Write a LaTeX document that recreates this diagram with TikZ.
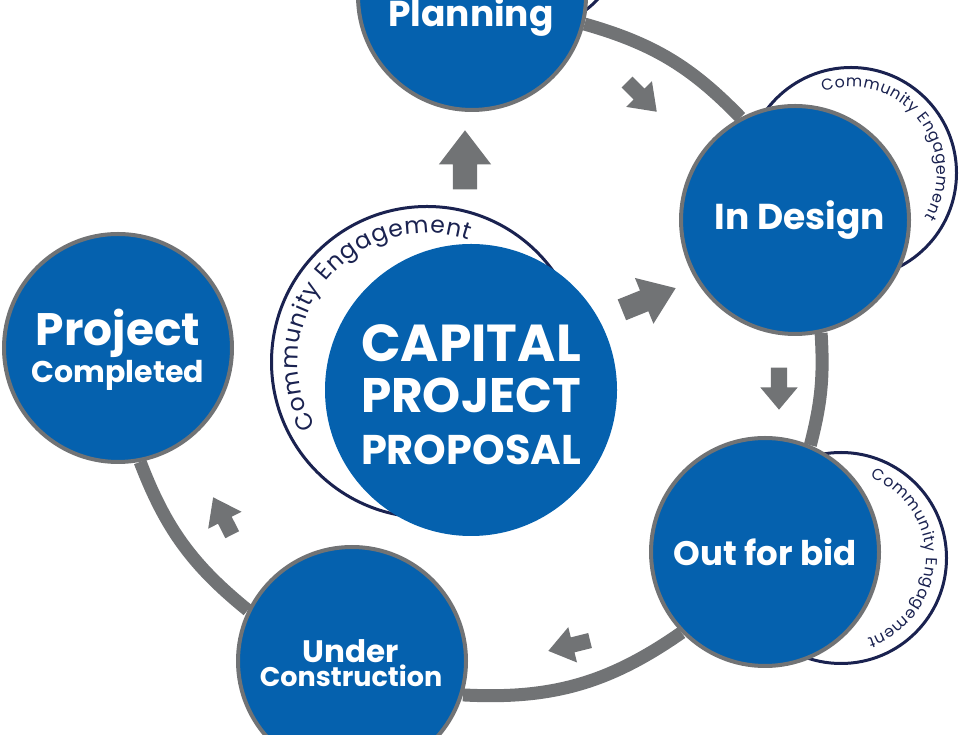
\documentclass[tikz,border=0pt]{standalone}
\usepackage{fontspec}
\setmainfont{Poppins}
\usetikzlibrary{positioning,shapes.arrows,decorations.text,backgrounds}
\definecolor{stepblue}{HTML}{0561AE}
\definecolor{ringgray}{HTML}{717375}
\definecolor{engagenavy}{HTML}{1A2250}
\newcommand{\sized}[1]{\fontsize{#1}{#1}\selectfont}
\begin{document}
\begin{tikzpicture}[x=1pt,y=1pt,
        step node/.style={circle,fill=stepblue,draw=ringgray,line width=4pt,minimum size=228pt,inner sep=0pt,text=white,font=\bfseries,align=center},
        step text/.style={text=white,font=\bfseries,align=center},
        engage ring/.style={circle,draw=engagenavy,line width=3pt},
        ring edge/.style={draw=ringgray,line width=13pt},
        block arrow/.style={single arrow,fill=ringgray,inner xsep=0pt,anchor=tip}]
      \useasboundingbox (0,0) rectangle (960,735);
      \clip (0,0) rectangle (960,735);

      % rings behind the circles
      \node[engage ring,minimum size=311pt] (engage0) at (427,373) {};
      \node[engage ring,minimum size=211pt] (engage2) at (851,562) {};
      \node[engage ring,minimum size=211pt] (engage3) at (841,177) {};
      \node[engage ring,minimum size=201pt] (engage1) at (525,805) {};

      \node[step node,draw=none,minimum size=292pt] (proposal) at (471,345) {};
      \node[step text] (proposaltext) at (471,340.5) {\sized{52}CAPITAL\\[15pt]\sized{48.5}PROJECT\\[21pt]\sized{41.5}PROPOSAL};
      \node[step node] (planning) at (472,739) {};
      \node[step text] (planningtext) at (471,718) {\sized{36}Planning};
      \node[step node] (design) at (795,515) {\hspace*{10pt}\sized{36}In Design};
      \node[step node] (bid) at (765,183) {\sized{34}Out for bid};
      \node[step node] (construction) at (352,74) {};
      \node[step text] (constructiontext) at (351,72) {\sized{31}Under\\[1pt]\sized{27}Construction};
      \node[step node] (completed) at (118,387) {};
      \node[step text] (completedtext) at (118,385) {\sized{45.5}Project\\[1.5pt]\sized{30}Completed};

      \begin{scope}[on background layer]
        \path[ring edge] (planning.-14) to[bend left=15] (design.118);
        \path[ring edge] (design.-77) to[bend left=9] (bid.67);
        \path[ring edge] (bid.224) to[bend left=19] (construction.-17);
        \path[ring edge] (construction.154) to[bend left=15] (completed.-79);
      \end{scope}

      \node[block arrow,rotate=90,minimum height=59pt,minimum width=52pt,inner ysep=12pt,single arrow head extend=14pt,single arrow tip angle=75] (toplanning) at (465,605) {};
      \node[block arrow,rotate=22,minimum height=58pt,minimum width=49pt,inner ysep=11pt,single arrow head extend=13.5pt,single arrow tip angle=72] (todesign) at (676,447) {};
      \node[block arrow,rotate=-45,minimum height=42pt,minimum width=36pt,inner ysep=7.5pt,single arrow head extend=10.5pt,single arrow tip angle=72] (pastplanning) at (657,623) {};
      \node[block arrow,rotate=-90,minimum height=42pt,minimum width=37pt,inner ysep=8pt,single arrow head extend=10.5pt,single arrow tip angle=80] (pastdesign) at (779,325) {};
      \node[block arrow,rotate=194,minimum height=43pt,minimum width=36pt,inner ysep=7.5pt,single arrow head extend=10.5pt,single arrow tip angle=72] (pastbid) at (548,84) {};
      \node[block arrow,rotate=117,minimum height=42pt,minimum width=37pt,inner ysep=7.5pt,single arrow head extend=11pt,single arrow tip angle=72] (pastconstruction) at (213,238) {};

      % curved labels on the rings
      \path[decorate,decoration={text along path,text align={fit to path},text color=engagenavy,text={|\sized{23.5}|Community Engagement}}]
      ([shift={(210:129)}]engage0.center) arc[start angle=210,end angle=71,radius=129];
      \path[decorate,decoration={text along path,text align={fit to path},text color=engagenavy,text={|\sized{15.8}|Community Engagement}}]
      ([shift={(109:86)}]engage2.center) arc[start angle=109,end angle=-31,radius=86];
      \path[decorate,decoration={text along path,text align={fit to path},text color=engagenavy,text={|\sized{15.8}|Community Engagement}}]
      ([shift={(70:85)}]engage3.center) arc[start angle=70,end angle=-72,radius=85];
    \end{tikzpicture}
\end{document}
